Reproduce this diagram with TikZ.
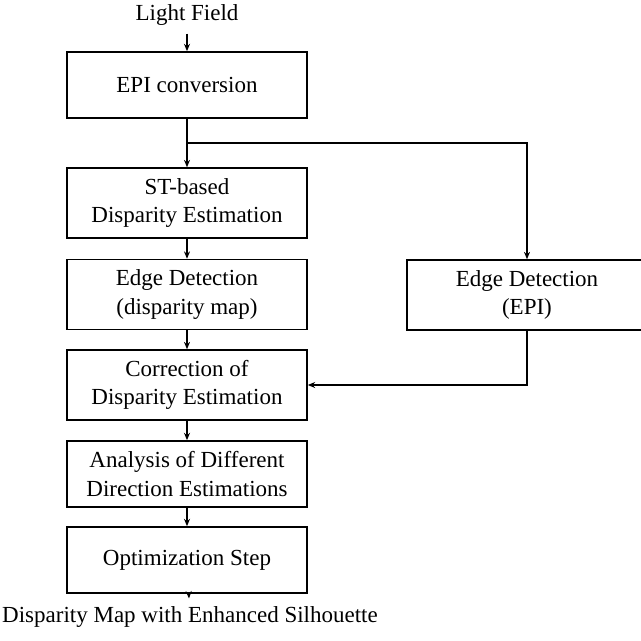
\documentclass[tikz,border=0pt]{standalone}
\usepackage{fontspec}
\setmainfont{Liberation Serif}
\usetikzlibrary{arrows.meta}
\begin{document}
\begin{tikzpicture}[x=0.4348pt,y=-0.4348pt,
  font=\fontsize{10}{12.2}\selectfont,
  stepbox/.style={draw,line width=0.7pt,minimum width=104.35pt,minimum height=30.4pt,align=center,inner sep=0pt},
  shortbox/.style={stepbox,minimum height=28.7pt},
  arr/.style={line width=0.7pt,-{Stealth[length=3.2pt,width=2.6pt]}},
  ln/.style={line width=0.7pt}]
\useasboundingbox (0,0) rectangle (641,641);
\node (lf) at (187,15) {Light Field};
\node[shortbox] (epi) at (187,85) {EPI conversion};
\node[stepbox] (st) at (187,203) {ST-based\\Disparity Estimation};
\node[stepbox] (edd) at (187,294.5) {Edge Detection\\(disparity map)};
\node[stepbox] (cor) at (187,385) {Correction of\\Disparity Estimation};
\node[shortbox] (ana) at (187,474) {Analysis of Different\\Direction Estimations};
\node[shortbox] (opt) at (187,560) {Optimization Step};
\node (out) at (190,617) {Disparity Map with Enhanced Silhouette};
\node[stepbox] (ede) at (527,295) {Edge Detection\\(EPI)};
\coordinate (j) at (187,143);
\draw[arr] (lf) -- (epi);
\draw[arr] (epi) -- (st);
\draw[arr] (j) -| (ede);
\draw[arr] (st) -- (edd);
\draw[arr] (edd) -- (cor);
\draw[arr] (ede) |- (cor);
\draw[arr] (cor) -- (ana);
\draw[arr] (ana) -- (opt);
\draw[arr] (opt) -- (out);
\end{tikzpicture}
\end{document}
